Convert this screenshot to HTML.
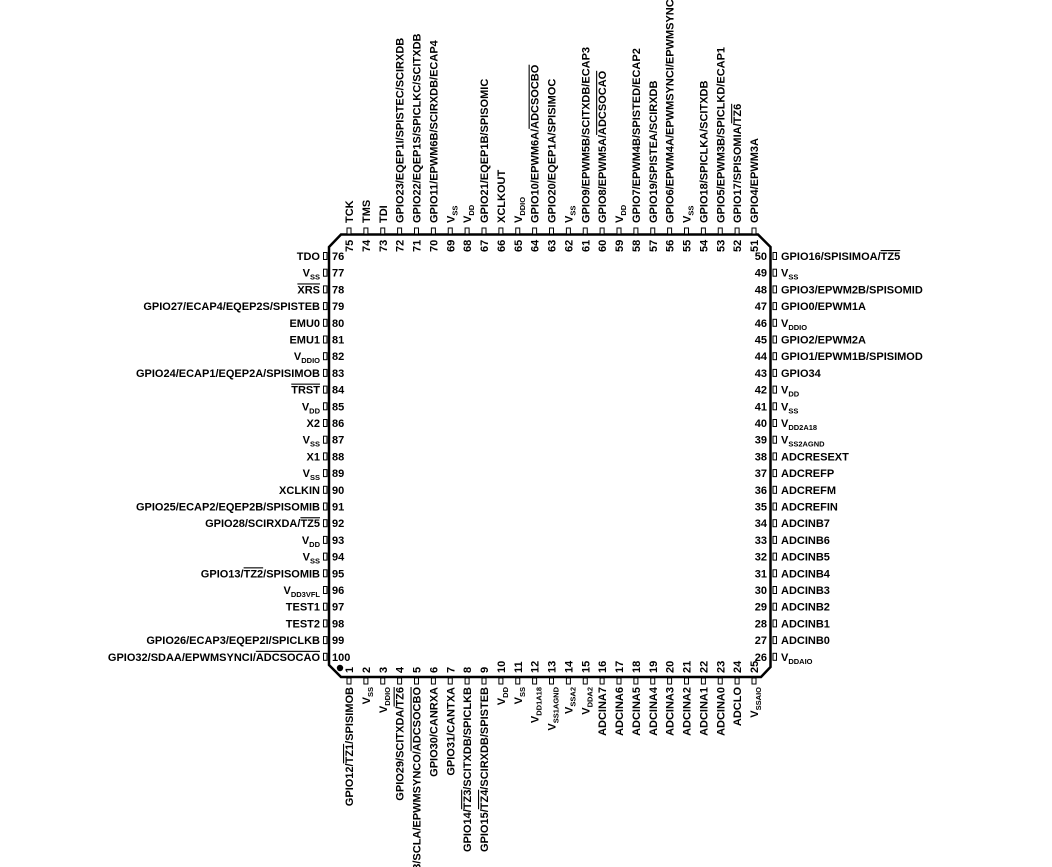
<!DOCTYPE html>
<html><head><meta charset="utf-8"><style>
html,body{margin:0;padding:0;background:#fff;width:1052px;height:867px;overflow:hidden}
svg{display:block}
text{font-family:"Liberation Sans",Arial,sans-serif;font-weight:bold;font-size:11px;fill:#000}
.n{font-size:11px}
.s{font-size:7.5px}
.o{text-decoration:overline}
.e{text-anchor:end}
rect{fill:#fff;stroke:#000;stroke-width:1}
</style></head><body>
<svg width="1052" height="867" viewBox="0 0 1052 867" xmlns="http://www.w3.org/2000/svg">
<path d="M341 234.5 L758 234.5 L770.5 247 L770.5 667 L761 677 L341 677 L329 665 L329 247 Z" fill="none" stroke="#000" stroke-width="2.5" stroke-linejoin="miter"/>
<circle cx="340" cy="668" r="3.2" fill="#000"/>

<!-- LEFT 76-100 -->
<g transform="translate(0,256)"><rect x="323.5" y="-3.5" width="3.5" height="7"/><text class="e" x="320" y="4">TDO</text><text class="n" x="332" y="4">76</text></g>
<g transform="translate(0,272.7)"><rect x="323.5" y="-3.5" width="3.5" height="7"/><text class="e" x="320" y="4">V<tspan class="s" dy="3">SS</tspan></text><text class="n" x="332" y="4">77</text></g>
<g transform="translate(0,289.4)"><rect x="323.5" y="-3.5" width="3.5" height="7"/><text class="e" x="320" y="4"><tspan class="o">XRS</tspan></text><text class="n" x="332" y="4">78</text></g>
<g transform="translate(0,306.1)"><rect x="323.5" y="-3.5" width="3.5" height="7"/><text class="e" x="320" y="4">GPIO27/ECAP4/EQEP2S/SPISTEB</text><text class="n" x="332" y="4">79</text></g>
<g transform="translate(0,322.8)"><rect x="323.5" y="-3.5" width="3.5" height="7"/><text class="e" x="320" y="4">EMU0</text><text class="n" x="332" y="4">80</text></g>
<g transform="translate(0,339.5)"><rect x="323.5" y="-3.5" width="3.5" height="7"/><text class="e" x="320" y="4">EMU1</text><text class="n" x="332" y="4">81</text></g>
<g transform="translate(0,356.2)"><rect x="323.5" y="-3.5" width="3.5" height="7"/><text class="e" x="320" y="4">V<tspan class="s" dy="3">DDIO</tspan></text><text class="n" x="332" y="4">82</text></g>
<g transform="translate(0,372.9)"><rect x="323.5" y="-3.5" width="3.5" height="7"/><text class="e" x="320" y="4">GPIO24/ECAP1/EQEP2A/SPISIMOB</text><text class="n" x="332" y="4">83</text></g>
<g transform="translate(0,389.6)"><rect x="323.5" y="-3.5" width="3.5" height="7"/><text class="e" x="320" y="4"><tspan class="o">TRST</tspan></text><text class="n" x="332" y="4">84</text></g>
<g transform="translate(0,406.3)"><rect x="323.5" y="-3.5" width="3.5" height="7"/><text class="e" x="320" y="4">V<tspan class="s" dy="3">DD</tspan></text><text class="n" x="332" y="4">85</text></g>
<g transform="translate(0,423)"><rect x="323.5" y="-3.5" width="3.5" height="7"/><text class="e" x="320" y="4">X2</text><text class="n" x="332" y="4">86</text></g>
<g transform="translate(0,439.7)"><rect x="323.5" y="-3.5" width="3.5" height="7"/><text class="e" x="320" y="4">V<tspan class="s" dy="3">SS</tspan></text><text class="n" x="332" y="4">87</text></g>
<g transform="translate(0,456.4)"><rect x="323.5" y="-3.5" width="3.5" height="7"/><text class="e" x="320" y="4">X1</text><text class="n" x="332" y="4">88</text></g>
<g transform="translate(0,473.1)"><rect x="323.5" y="-3.5" width="3.5" height="7"/><text class="e" x="320" y="4">V<tspan class="s" dy="3">SS</tspan></text><text class="n" x="332" y="4">89</text></g>
<g transform="translate(0,489.8)"><rect x="323.5" y="-3.5" width="3.5" height="7"/><text class="e" x="320" y="4">XCLKIN</text><text class="n" x="332" y="4">90</text></g>
<g transform="translate(0,506.5)"><rect x="323.5" y="-3.5" width="3.5" height="7"/><text class="e" x="320" y="4">GPIO25/ECAP2/EQEP2B/SPISOMIB</text><text class="n" x="332" y="4">91</text></g>
<g transform="translate(0,523.2)"><rect x="323.5" y="-3.5" width="3.5" height="7"/><text class="e" x="320" y="4">GPIO28/SCIRXDA/<tspan class="o">TZ5</tspan></text><text class="n" x="332" y="4">92</text></g>
<g transform="translate(0,539.9)"><rect x="323.5" y="-3.5" width="3.5" height="7"/><text class="e" x="320" y="4">V<tspan class="s" dy="3">DD</tspan></text><text class="n" x="332" y="4">93</text></g>
<g transform="translate(0,556.6)"><rect x="323.5" y="-3.5" width="3.5" height="7"/><text class="e" x="320" y="4">V<tspan class="s" dy="3">SS</tspan></text><text class="n" x="332" y="4">94</text></g>
<g transform="translate(0,573.3)"><rect x="323.5" y="-3.5" width="3.5" height="7"/><text class="e" x="320" y="4">GPIO13/<tspan class="o">TZ2</tspan>/SPISOMIB</text><text class="n" x="332" y="4">95</text></g>
<g transform="translate(0,590)"><rect x="323.5" y="-3.5" width="3.5" height="7"/><text class="e" x="320" y="4">V<tspan class="s" dy="3">DD3VFL</tspan></text><text class="n" x="332" y="4">96</text></g>
<g transform="translate(0,606.7)"><rect x="323.5" y="-3.5" width="3.5" height="7"/><text class="e" x="320" y="4">TEST1</text><text class="n" x="332" y="4">97</text></g>
<g transform="translate(0,623.4)"><rect x="323.5" y="-3.5" width="3.5" height="7"/><text class="e" x="320" y="4">TEST2</text><text class="n" x="332" y="4">98</text></g>
<g transform="translate(0,640.1)"><rect x="323.5" y="-3.5" width="3.5" height="7"/><text class="e" x="320" y="4">GPIO26/ECAP3/EQEP2I/SPICLKB</text><text class="n" x="332" y="4">99</text></g>
<g transform="translate(0,656.8)"><rect x="323.5" y="-3.5" width="3.5" height="7"/><text class="e" x="320" y="4">GPIO32/SDAA/EPWMSYNCI/<tspan class="o">ADCSOCAO</tspan></text><text class="n" x="332" y="4">100</text></g>

<!-- RIGHT 50-26 -->
<g transform="translate(0,256)"><rect x="773" y="-3.5" width="3.5" height="7"/><text class="n e" x="767" y="4">50</text><text x="781" y="4">GPIO16/SPISIMOA/<tspan class="o">TZ5</tspan></text></g>
<g transform="translate(0,272.7)"><rect x="773" y="-3.5" width="3.5" height="7"/><text class="n e" x="767" y="4">49</text><text x="781" y="4">V<tspan class="s" dy="3">SS</tspan></text></g>
<g transform="translate(0,289.4)"><rect x="773" y="-3.5" width="3.5" height="7"/><text class="n e" x="767" y="4">48</text><text x="781" y="4">GPIO3/EPWM2B/SPISOMID</text></g>
<g transform="translate(0,306.1)"><rect x="773" y="-3.5" width="3.5" height="7"/><text class="n e" x="767" y="4">47</text><text x="781" y="4">GPIO0/EPWM1A</text></g>
<g transform="translate(0,322.8)"><rect x="773" y="-3.5" width="3.5" height="7"/><text class="n e" x="767" y="4">46</text><text x="781" y="4">V<tspan class="s" dy="3">DDIO</tspan></text></g>
<g transform="translate(0,339.5)"><rect x="773" y="-3.5" width="3.5" height="7"/><text class="n e" x="767" y="4">45</text><text x="781" y="4">GPIO2/EPWM2A</text></g>
<g transform="translate(0,356.2)"><rect x="773" y="-3.5" width="3.5" height="7"/><text class="n e" x="767" y="4">44</text><text x="781" y="4">GPIO1/EPWM1B/SPISIMOD</text></g>
<g transform="translate(0,372.9)"><rect x="773" y="-3.5" width="3.5" height="7"/><text class="n e" x="767" y="4">43</text><text x="781" y="4">GPIO34</text></g>
<g transform="translate(0,389.6)"><rect x="773" y="-3.5" width="3.5" height="7"/><text class="n e" x="767" y="4">42</text><text x="781" y="4">V<tspan class="s" dy="3">DD</tspan></text></g>
<g transform="translate(0,406.3)"><rect x="773" y="-3.5" width="3.5" height="7"/><text class="n e" x="767" y="4">41</text><text x="781" y="4">V<tspan class="s" dy="3">SS</tspan></text></g>
<g transform="translate(0,423)"><rect x="773" y="-3.5" width="3.5" height="7"/><text class="n e" x="767" y="4">40</text><text x="781" y="4">V<tspan class="s" dy="3">DD2A18</tspan></text></g>
<g transform="translate(0,439.7)"><rect x="773" y="-3.5" width="3.5" height="7"/><text class="n e" x="767" y="4">39</text><text x="781" y="4">V<tspan class="s" dy="3">SS2AGND</tspan></text></g>
<g transform="translate(0,456.4)"><rect x="773" y="-3.5" width="3.5" height="7"/><text class="n e" x="767" y="4">38</text><text x="781" y="4">ADCRESEXT</text></g>
<g transform="translate(0,473.1)"><rect x="773" y="-3.5" width="3.5" height="7"/><text class="n e" x="767" y="4">37</text><text x="781" y="4">ADCREFP</text></g>
<g transform="translate(0,489.8)"><rect x="773" y="-3.5" width="3.5" height="7"/><text class="n e" x="767" y="4">36</text><text x="781" y="4">ADCREFM</text></g>
<g transform="translate(0,506.5)"><rect x="773" y="-3.5" width="3.5" height="7"/><text class="n e" x="767" y="4">35</text><text x="781" y="4">ADCREFIN</text></g>
<g transform="translate(0,523.2)"><rect x="773" y="-3.5" width="3.5" height="7"/><text class="n e" x="767" y="4">34</text><text x="781" y="4">ADCINB7</text></g>
<g transform="translate(0,539.9)"><rect x="773" y="-3.5" width="3.5" height="7"/><text class="n e" x="767" y="4">33</text><text x="781" y="4">ADCINB6</text></g>
<g transform="translate(0,556.6)"><rect x="773" y="-3.5" width="3.5" height="7"/><text class="n e" x="767" y="4">32</text><text x="781" y="4">ADCINB5</text></g>
<g transform="translate(0,573.3)"><rect x="773" y="-3.5" width="3.5" height="7"/><text class="n e" x="767" y="4">31</text><text x="781" y="4">ADCINB4</text></g>
<g transform="translate(0,590)"><rect x="773" y="-3.5" width="3.5" height="7"/><text class="n e" x="767" y="4">30</text><text x="781" y="4">ADCINB3</text></g>
<g transform="translate(0,606.7)"><rect x="773" y="-3.5" width="3.5" height="7"/><text class="n e" x="767" y="4">29</text><text x="781" y="4">ADCINB2</text></g>
<g transform="translate(0,623.4)"><rect x="773" y="-3.5" width="3.5" height="7"/><text class="n e" x="767" y="4">28</text><text x="781" y="4">ADCINB1</text></g>
<g transform="translate(0,640.1)"><rect x="773" y="-3.5" width="3.5" height="7"/><text class="n e" x="767" y="4">27</text><text x="781" y="4">ADCINB0</text></g>
<g transform="translate(0,656.8)"><rect x="773" y="-3.5" width="3.5" height="7"/><text class="n e" x="767" y="4">26</text><text x="781" y="4">V<tspan class="s" dy="3">DDAIO</tspan></text></g>

<!-- TOP 75-51 -->
<g transform="translate(349,0)"><rect x="-2" y="228" width="4" height="6"/><text transform="translate(4,223) rotate(-90)">TCK</text><text class="n" transform="translate(4,252) rotate(-90)">75</text></g>
<g transform="translate(365.9,0)"><rect x="-2" y="228" width="4" height="6"/><text transform="translate(4,223) rotate(-90)">TMS</text><text class="n" transform="translate(4,252) rotate(-90)">74</text></g>
<g transform="translate(382.75,0)"><rect x="-2" y="228" width="4" height="6"/><text transform="translate(4,223) rotate(-90)">TDI</text><text class="n" transform="translate(4,252) rotate(-90)">73</text></g>
<g transform="translate(399.6,0)"><rect x="-2" y="228" width="4" height="6"/><text transform="translate(4,223) rotate(-90)">GPIO23/EQEP1I/SPISTEC/SCIRXDB</text><text class="n" transform="translate(4,252) rotate(-90)">72</text></g>
<g transform="translate(416.5,0)"><rect x="-2" y="228" width="4" height="6"/><text transform="translate(4,223) rotate(-90)">GPIO22/EQEP1S/SPICLKC/SCITXDB</text><text class="n" transform="translate(4,252) rotate(-90)">71</text></g>
<g transform="translate(433.4,0)"><rect x="-2" y="228" width="4" height="6"/><text transform="translate(4,223) rotate(-90)">GPIO11/EPWM6B/SCIRXDB/ECAP4</text><text class="n" transform="translate(4,252) rotate(-90)">70</text></g>
<g transform="translate(450.25,0)"><rect x="-2" y="228" width="4" height="6"/><text transform="translate(4,223) rotate(-90)">V<tspan class="s" dy="3">SS</tspan></text><text class="n" transform="translate(4,252) rotate(-90)">69</text></g>
<g transform="translate(467.1,0)"><rect x="-2" y="228" width="4" height="6"/><text transform="translate(4,223) rotate(-90)">V<tspan class="s" dy="3">DD</tspan></text><text class="n" transform="translate(4,252) rotate(-90)">68</text></g>
<g transform="translate(484,0)"><rect x="-2" y="228" width="4" height="6"/><text transform="translate(4,223) rotate(-90)">GPIO21/EQEP1B/SPISOMIC</text><text class="n" transform="translate(4,252) rotate(-90)">67</text></g>
<g transform="translate(500.9,0)"><rect x="-2" y="228" width="4" height="6"/><text transform="translate(4,223) rotate(-90)">XCLKOUT</text><text class="n" transform="translate(4,252) rotate(-90)">66</text></g>
<g transform="translate(517.75,0)"><rect x="-2" y="228" width="4" height="6"/><text transform="translate(4,223) rotate(-90)">V<tspan class="s" dy="3">DDIO</tspan></text><text class="n" transform="translate(4,252) rotate(-90)">65</text></g>
<g transform="translate(534.6,0)"><rect x="-2" y="228" width="4" height="6"/><text transform="translate(4,223) rotate(-90)">GPIO10/EPWM6A/<tspan class="o">ADCSOCBO</tspan></text><text class="n" transform="translate(4,252) rotate(-90)">64</text></g>
<g transform="translate(551.5,0)"><rect x="-2" y="228" width="4" height="6"/><text transform="translate(4,223) rotate(-90)">GPIO20/EQEP1A/SPISIMOC</text><text class="n" transform="translate(4,252) rotate(-90)">63</text></g>
<g transform="translate(568.4,0)"><rect x="-2" y="228" width="4" height="6"/><text transform="translate(4,223) rotate(-90)">V<tspan class="s" dy="3">SS</tspan></text><text class="n" transform="translate(4,252) rotate(-90)">62</text></g>
<g transform="translate(585.25,0)"><rect x="-2" y="228" width="4" height="6"/><text transform="translate(4,223) rotate(-90)">GPIO9/EPWM5B/SCITXDB/ECAP3</text><text class="n" transform="translate(4,252) rotate(-90)">61</text></g>
<g transform="translate(602.1,0)"><rect x="-2" y="228" width="4" height="6"/><text transform="translate(4,223) rotate(-90)">GPIO8/EPWM5A/<tspan class="o">ADCSOCAO</tspan></text><text class="n" transform="translate(4,252) rotate(-90)">60</text></g>
<g transform="translate(619,0)"><rect x="-2" y="228" width="4" height="6"/><text transform="translate(4,223) rotate(-90)">V<tspan class="s" dy="3">DD</tspan></text><text class="n" transform="translate(4,252) rotate(-90)">59</text></g>
<g transform="translate(635.9,0)"><rect x="-2" y="228" width="4" height="6"/><text transform="translate(4,223) rotate(-90)">GPIO7/EPWM4B/SPISTED/ECAP2</text><text class="n" transform="translate(4,252) rotate(-90)">58</text></g>
<g transform="translate(652.75,0)"><rect x="-2" y="228" width="4" height="6"/><text transform="translate(4,223) rotate(-90)">GPIO19/SPISTEA/SCIRXDB</text><text class="n" transform="translate(4,252) rotate(-90)">57</text></g>
<g transform="translate(669.6,0)"><rect x="-2" y="228" width="4" height="6"/><text transform="translate(4,223) rotate(-90)">GPIO6/EPWM4A/EPWMSYNCI/EPWMSYNCO</text><text class="n" transform="translate(4,252) rotate(-90)">56</text></g>
<g transform="translate(686.5,0)"><rect x="-2" y="228" width="4" height="6"/><text transform="translate(4,223) rotate(-90)">V<tspan class="s" dy="3">SS</tspan></text><text class="n" transform="translate(4,252) rotate(-90)">55</text></g>
<g transform="translate(703.4,0)"><rect x="-2" y="228" width="4" height="6"/><text transform="translate(4,223) rotate(-90)">GPIO18/SPICLKA/SCITXDB</text><text class="n" transform="translate(4,252) rotate(-90)">54</text></g>
<g transform="translate(720.25,0)"><rect x="-2" y="228" width="4" height="6"/><text transform="translate(4,223) rotate(-90)">GPIO5/EPWM3B/SPICLKD/ECAP1</text><text class="n" transform="translate(4,252) rotate(-90)">53</text></g>
<g transform="translate(737.1,0)"><rect x="-2" y="228" width="4" height="6"/><text transform="translate(4,223) rotate(-90)">GPIO17/SPISOMIA/<tspan class="o">TZ6</tspan></text><text class="n" transform="translate(4,252) rotate(-90)">52</text></g>
<g transform="translate(754,0)"><rect x="-2" y="228" width="4" height="6"/><text transform="translate(4,223) rotate(-90)">GPIO4/EPWM3A</text><text class="n" transform="translate(4,252) rotate(-90)">51</text></g>

<!-- BOTTOM 1-25 -->
<g transform="translate(349,0)"><rect x="-2" y="678" width="4" height="6"/><text class="e" transform="translate(4,687) rotate(-90)">GPIO12/<tspan class="o">TZ1</tspan>/SPISIMOB</text><text class="n" transform="translate(4,673) rotate(-90)">1</text></g>
<g transform="translate(365.9,0)"><rect x="-2" y="678" width="4" height="6"/><text class="e" transform="translate(4,687) rotate(-90)">V<tspan class="s" dy="3">SS</tspan></text><text class="n" transform="translate(4,673) rotate(-90)">2</text></g>
<g transform="translate(382.75,0)"><rect x="-2" y="678" width="4" height="6"/><text class="e" transform="translate(4,687) rotate(-90)">V<tspan class="s" dy="3">DDIO</tspan></text><text class="n" transform="translate(4,673) rotate(-90)">3</text></g>
<g transform="translate(399.6,0)"><rect x="-2" y="678" width="4" height="6"/><text class="e" transform="translate(4,687) rotate(-90)">GPIO29/SCITXDA/<tspan class="o">TZ6</tspan></text><text class="n" transform="translate(4,673) rotate(-90)">4</text></g>
<g transform="translate(416.5,0)"><rect x="-2" y="678" width="4" height="6"/><text class="e" transform="translate(4,687) rotate(-90)">GPIO33/SCLA/EPWMSYNCO/<tspan class="o">ADCSOCBO</tspan></text><text class="n" transform="translate(4,673) rotate(-90)">5</text></g>
<g transform="translate(433.4,0)"><rect x="-2" y="678" width="4" height="6"/><text class="e" transform="translate(4,687) rotate(-90)">GPIO30/CANRXA</text><text class="n" transform="translate(4,673) rotate(-90)">6</text></g>
<g transform="translate(450.25,0)"><rect x="-2" y="678" width="4" height="6"/><text class="e" transform="translate(4,687) rotate(-90)">GPIO31/CANTXA</text><text class="n" transform="translate(4,673) rotate(-90)">7</text></g>
<g transform="translate(467.1,0)"><rect x="-2" y="678" width="4" height="6"/><text class="e" transform="translate(4,687) rotate(-90)">GPIO14/<tspan class="o">TZ3</tspan>/SCITXDB/SPICLKB</text><text class="n" transform="translate(4,673) rotate(-90)">8</text></g>
<g transform="translate(484,0)"><rect x="-2" y="678" width="4" height="6"/><text class="e" transform="translate(4,687) rotate(-90)">GPIO15/<tspan class="o">TZ4</tspan>/SCIRXDB/SPISTEB</text><text class="n" transform="translate(4,673) rotate(-90)">9</text></g>
<g transform="translate(500.9,0)"><rect x="-2" y="678" width="4" height="6"/><text class="e" transform="translate(4,687) rotate(-90)">V<tspan class="s" dy="3">DD</tspan></text><text class="n" transform="translate(4,673) rotate(-90)">10</text></g>
<g transform="translate(517.75,0)"><rect x="-2" y="678" width="4" height="6"/><text class="e" transform="translate(4,687) rotate(-90)">V<tspan class="s" dy="3">SS</tspan></text><text class="n" transform="translate(4,673) rotate(-90)">11</text></g>
<g transform="translate(534.6,0)"><rect x="-2" y="678" width="4" height="6"/><text class="e" transform="translate(4,687) rotate(-90)">V<tspan class="s" dy="3">DD1A18</tspan></text><text class="n" transform="translate(4,673) rotate(-90)">12</text></g>
<g transform="translate(551.5,0)"><rect x="-2" y="678" width="4" height="6"/><text class="e" transform="translate(4,687) rotate(-90)">V<tspan class="s" dy="3">SS1AGND</tspan></text><text class="n" transform="translate(4,673) rotate(-90)">13</text></g>
<g transform="translate(568.4,0)"><rect x="-2" y="678" width="4" height="6"/><text class="e" transform="translate(4,687) rotate(-90)">V<tspan class="s" dy="3">SSA2</tspan></text><text class="n" transform="translate(4,673) rotate(-90)">14</text></g>
<g transform="translate(585.25,0)"><rect x="-2" y="678" width="4" height="6"/><text class="e" transform="translate(4,687) rotate(-90)">V<tspan class="s" dy="3">DDA2</tspan></text><text class="n" transform="translate(4,673) rotate(-90)">15</text></g>
<g transform="translate(602.1,0)"><rect x="-2" y="678" width="4" height="6"/><text class="e" transform="translate(4,687) rotate(-90)">ADCINA7</text><text class="n" transform="translate(4,673) rotate(-90)">16</text></g>
<g transform="translate(619,0)"><rect x="-2" y="678" width="4" height="6"/><text class="e" transform="translate(4,687) rotate(-90)">ADCINA6</text><text class="n" transform="translate(4,673) rotate(-90)">17</text></g>
<g transform="translate(635.9,0)"><rect x="-2" y="678" width="4" height="6"/><text class="e" transform="translate(4,687) rotate(-90)">ADCINA5</text><text class="n" transform="translate(4,673) rotate(-90)">18</text></g>
<g transform="translate(652.75,0)"><rect x="-2" y="678" width="4" height="6"/><text class="e" transform="translate(4,687) rotate(-90)">ADCINA4</text><text class="n" transform="translate(4,673) rotate(-90)">19</text></g>
<g transform="translate(669.6,0)"><rect x="-2" y="678" width="4" height="6"/><text class="e" transform="translate(4,687) rotate(-90)">ADCINA3</text><text class="n" transform="translate(4,673) rotate(-90)">20</text></g>
<g transform="translate(686.5,0)"><rect x="-2" y="678" width="4" height="6"/><text class="e" transform="translate(4,687) rotate(-90)">ADCINA2</text><text class="n" transform="translate(4,673) rotate(-90)">21</text></g>
<g transform="translate(703.4,0)"><rect x="-2" y="678" width="4" height="6"/><text class="e" transform="translate(4,687) rotate(-90)">ADCINA1</text><text class="n" transform="translate(4,673) rotate(-90)">22</text></g>
<g transform="translate(720.25,0)"><rect x="-2" y="678" width="4" height="6"/><text class="e" transform="translate(4,687) rotate(-90)">ADCINA0</text><text class="n" transform="translate(4,673) rotate(-90)">23</text></g>
<g transform="translate(737.1,0)"><rect x="-2" y="678" width="4" height="6"/><text class="e" transform="translate(4,687) rotate(-90)">ADCLO</text><text class="n" transform="translate(4,673) rotate(-90)">24</text></g>
<g transform="translate(754,0)"><rect x="-2" y="678" width="4" height="6"/><text class="e" transform="translate(4,687) rotate(-90)">V<tspan class="s" dy="3">SSAIO</tspan></text><text class="n" transform="translate(4,673) rotate(-90)">25</text></g>
</svg>
</body></html>
